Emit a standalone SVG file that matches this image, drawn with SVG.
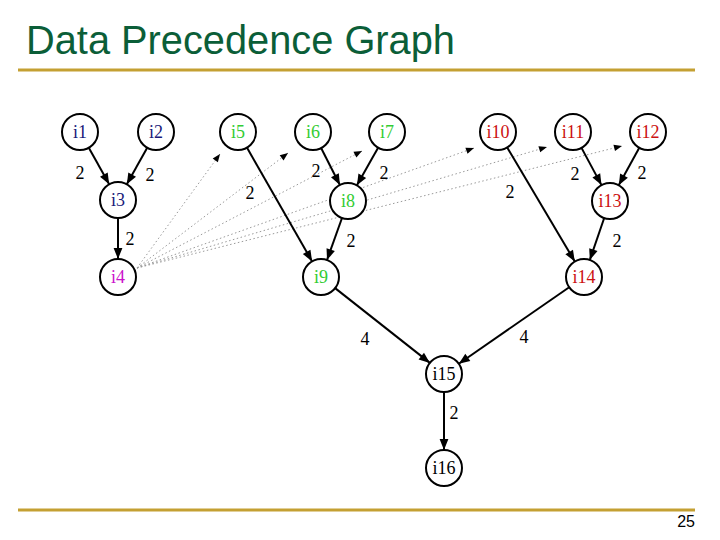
<svg xmlns="http://www.w3.org/2000/svg" width="720" height="540" viewBox="0 0 720 540">
<style>
.n circle{fill:#fff;stroke:#000;stroke-width:2}
.n text{font-family:"Liberation Serif","DejaVu Serif",serif;font-size:18px;text-anchor:middle}
.e{stroke:#000;stroke-width:2;fill:none;marker-end:url(#a)}
.d{stroke:#9a9a9a;stroke-width:1;stroke-dasharray:1.5 2.5;fill:none;marker-end:url(#s)}
.lbl{font-family:"Liberation Serif","DejaVu Serif",serif;font-size:18px;text-anchor:middle;fill:#000}
.blue{fill:#1a1a7a}.mag{fill:#cc11cc}.grn{fill:#33cc33}.red{fill:#cc1111}.blk{fill:#000}
</style>
<defs>
<marker id="a" viewBox="0 0 10 10" refX="10" refY="5" markerWidth="6" markerHeight="5.5" orient="auto" markerUnits="strokeWidth"><path d="M0,1 L10,5 L0,9 z" fill="#000"/></marker>
<marker id="s" viewBox="0 0 10 10" refX="10" refY="5" markerWidth="9" markerHeight="8" orient="auto" markerUnits="strokeWidth"><path d="M0,1 L10,5 L0,9 z" fill="#000"/></marker>
</defs>
<rect width="720" height="540" fill="#fff"/>
<text x="26" y="54" font-family="Liberation Sans, Arial, sans-serif" font-size="40" fill="#0b5e38" textLength="429" lengthAdjust="spacingAndGlyphs">Data Precedence Graph</text>
<line x1="18" y1="70" x2="695" y2="70" stroke="#c4a032" stroke-width="3"/>
<line x1="18" y1="510" x2="695" y2="510" stroke="#c4a032" stroke-width="3"/>
<text x="695" y="527" font-family="Liberation Sans, Arial, sans-serif" font-size="16" text-anchor="end" fill="#000">25</text>
<g id="connectors">
<path class="d" d="M137,268 L220,154"/>
<path class="d" d="M137,268 L288,153"/>
<path class="d" d="M137,268 L362,151"/>
<path class="d" d="M137,268 L474,148"/>
<path class="d" d="M137,268 L547,147"/>
<path class="d" d="M137,268 L622,146"/>
<path class="e" d="M88.8,147.7 L109.2,184.3"/>
<path class="e" d="M147.2,147.7 L126.8,184.3"/>
<path class="e" d="M118,218 L118,259"/>
<path class="e" d="M246.9,147.6 L312.1,261.4"/>
<path class="e" d="M321.1,148 L339.9,185"/>
<path class="e" d="M378.1,147.7 L356.9,185.3"/>
<path class="e" d="M342,218 L327,260"/>
<path class="e" d="M507.2,147.5 L574.8,261.5"/>
<path class="e" d="M581.5,147.9 L601.5,185.1"/>
<path class="e" d="M639.3,147.8 L618.7,185.2"/>
<path class="e" d="M604.2,218 L589.8,260"/>
<path class="e" d="M335.1,288.1 L429.9,362.9"/>
<path class="e" d="M569.2,287.3 L458.8,363.7"/>
<path class="e" d="M444,392 L444,450"/>
<text class="lbl" x="80" y="179">2</text>
<text class="lbl" x="150" y="181">2</text>
<text class="lbl" x="130" y="245">2</text>
<text class="lbl" x="250" y="199">2</text>
<text class="lbl" x="316" y="177">2</text>
<text class="lbl" x="384" y="179">2</text>
<text class="lbl" x="351" y="247">2</text>
<text class="lbl" x="510" y="198">2</text>
<text class="lbl" x="575" y="180">2</text>
<text class="lbl" x="642" y="179">2</text>
<text class="lbl" x="617" y="247">2</text>
<text class="lbl" x="365" y="345">4</text>
<text class="lbl" x="524" y="343">4</text>
<text class="lbl" x="454" y="419">2</text>
</g>
<g id="i1" class="n"><circle cx="80" cy="132" r="18"/><text x="80" y="138" class="blue">i1</text></g>
<g id="i2" class="n"><circle cx="156" cy="132" r="18"/><text x="156" y="138" class="blue">i2</text></g>
<g id="i3" class="n"><circle cx="118" cy="200" r="18"/><text x="118" y="206" class="blue">i3</text></g>
<g id="i4" class="n"><circle cx="118" cy="277" r="18"/><text x="118" y="283" class="mag">i4</text></g>
<g id="i5" class="n"><circle cx="238" cy="132" r="18"/><text x="238" y="138" class="grn">i5</text></g>
<g id="i6" class="n"><circle cx="313" cy="132" r="18"/><text x="313" y="138" class="grn">i6</text></g>
<g id="i7" class="n"><circle cx="387" cy="132" r="18"/><text x="387" y="138" class="grn">i7</text></g>
<g id="i8" class="n"><circle cx="348" cy="201" r="18"/><text x="348" y="207" class="grn">i8</text></g>
<g id="i9" class="n"><circle cx="321" cy="277" r="18"/><text x="321" y="283" class="grn">i9</text></g>
<g id="i10" class="n"><circle cx="498" cy="132" r="18"/><text x="498" y="138" class="red">i10</text></g>
<g id="i11" class="n"><circle cx="573" cy="132" r="18"/><text x="573" y="138" class="red">i11</text></g>
<g id="i12" class="n"><circle cx="648" cy="132" r="18"/><text x="648" y="138" class="red">i12</text></g>
<g id="i13" class="n"><circle cx="610" cy="201" r="18"/><text x="610" y="207" class="red">i13</text></g>
<g id="i14" class="n"><circle cx="584" cy="277" r="18"/><text x="584" y="283" class="red">i14</text></g>
<g id="i15" class="n"><circle cx="444" cy="374" r="18"/><text x="444" y="380" class="blk">i15</text></g>
<g id="i16" class="n"><circle cx="444" cy="468" r="18"/><text x="444" y="474" class="blk">i16</text></g>
</svg>
